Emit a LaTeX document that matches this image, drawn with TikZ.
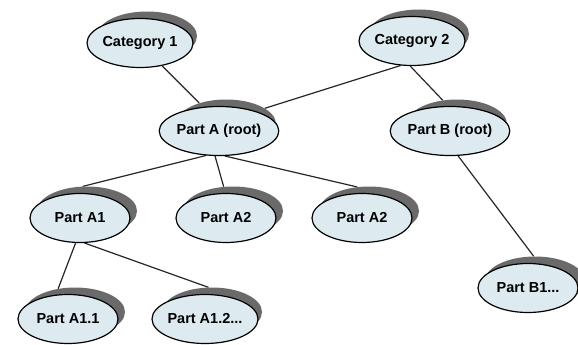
\documentclass[tikz,border=0pt]{standalone}
\usepackage{fontspec}
\setsansfont{Liberation Sans}
\usetikzlibrary{shapes.geometric,calc}
\pgfdeclarelayer{bg}
\pgfsetlayers{bg,main}
\definecolor{bubble}{HTML}{DDEBF0}
\definecolor{shade}{HTML}{6A6A6A}
\tikzset{
  bubble/.style={ellipse, draw=black, line width=1.2pt, fill=bubble,
    minimum width=100pt, minimum height=49pt, inner sep=0pt,
    font=\sffamily\bfseries\fontsize{14.5}{16}\selectfont},
  shadowbubble/.style={ellipse, fill=shade, draw=none,
    minimum width=100pt, minimum height=49pt, inner sep=0pt},
  link/.style={line width=1.2pt, draw=black!85}
}
% place a bubble and its drop shadow (shadow named <name>s)
\newcommand{\bubbleat}[3]{%
  \node[shadowbubble] (#1s) at ($(#2)+(7,-7)$) {};
  \node[bubble] (#1) at (#2) {#3};
}
\begin{document}
\begin{tikzpicture}[x=1pt,y=-1pt]
\useasboundingbox (0,0) rectangle (578,345);

\bubbleat{cat1}{140,43}{Category 1}
\bubbleat{cat2}{412,41}{Category 2}
\bubbleat{pa}{219,131}{Part A (root)}
\bubbleat{pb}{450,131}{Part B (root)}
\bubbleat{a1}{80,218}{Part A1}
\bubbleat{a2}{226,218}{Part A2}
\bubbleat{a3}{362,218}{Part A2}
\bubbleat{a11}{68,319}{Part A1.1}
\bubbleat{a12}{205,319}{Part A1.2...}
\bubbleat{b1}{528,288}{Part B1...}

\begin{pgfonlayer}{bg}
  \fill[white] (0,0) rectangle (578,345);
  \draw[link] (cat1.-46) -- (pas.142);
  \draw[link] (cat2.245) -- (pas.22);
  \draw[link] (cat2.-94) -- (pbs.121);
  \draw[link] (pb.-72) -- (b1s.93);
  \draw[link] (pa.-118) -- (a1s.100);
  \draw[link] (pa.-99) -- (a2s.111);
  \draw[link] (pa.-77) -- (a3s.116);
  \draw[link] (a1.-100) -- (a11s.126);
  \draw[link] (a1.-80) -- (a12s.98);
\end{pgfonlayer}
\end{tikzpicture}
\end{document}
